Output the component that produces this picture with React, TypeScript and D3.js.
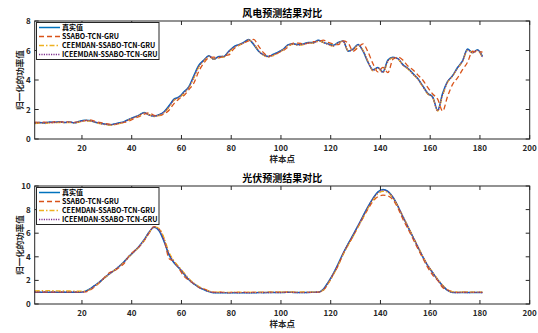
import React from 'react';
import * as d3 from 'd3';

// sample points: every other sample, 1..181
const samples = d3.range(1, 182, 2);

const seriesNames = ['真实值', 'SSABO-TCN-GRU', 'CEEMDAN-SSABO-TCN-GRU', 'ICEEMDAN-SSABO-TCN-GRU'];
const xTicks = [20, 40, 60, 80, 100, 120, 140, 160, 180, 200];
const windTicks = [0, 2, 4, 6, 8];
const solarTicks = [0, 2, 4, 6, 8, 10];

const windTrue = [1.10, 1.12, 1.08, 1.15, 1.13, 1.17, 1.12, 1.15, 1.10, 1.20, 1.27, 1.25, 1.15, 1.08, 1.02, 0.97, 1.02, 1.10, 1.18, 1.35,
  1.48, 1.62, 1.80, 1.62, 1.55, 1.65, 1.85, 2.25, 2.70, 2.85, 3.20, 3.55, 4.30, 5.00, 5.35, 5.65, 5.40, 5.60, 5.60, 5.95,
  6.25, 6.40, 6.55, 6.75, 6.40, 5.95, 5.70, 5.60, 5.75, 5.90, 6.10, 6.40, 6.45, 6.40, 6.45, 6.55, 6.55, 6.70, 6.55, 6.45,
  6.35, 6.55, 6.65, 5.95, 6.10, 6.40, 5.95, 5.20, 4.70, 4.85, 4.55, 5.35, 5.55, 5.45, 5.05, 4.80, 4.45, 4.10, 3.60, 3.10,
  2.85, 1.95, 3.10, 3.90, 4.30, 4.85, 5.30, 6.10, 5.85, 6.05, 5.60];
const windSsabo = [1.15, 1.12, 1.15, 1.10, 1.17, 1.15, 1.18, 1.13, 1.15, 1.15, 1.25, 1.30, 1.22, 1.12, 1.05, 1.00, 0.98, 1.05, 1.12, 1.22,
  1.40, 1.52, 1.68, 1.78, 1.60, 1.58, 1.70, 1.95, 2.40, 2.72, 2.95, 3.35, 3.80, 4.60, 5.15, 5.50, 5.55, 5.50, 5.65, 5.70,
  6.10, 6.35, 6.50, 6.65, 6.75, 6.30, 5.85, 5.65, 5.65, 5.85, 6.00, 6.25, 6.50, 6.50, 6.45, 6.50, 6.60, 6.60, 6.70, 6.55,
  6.45, 6.40, 6.65, 6.50, 5.95, 6.20, 6.45, 5.90, 5.10, 4.55, 4.85, 4.50, 5.40, 5.55, 5.35, 4.95, 4.70, 4.35, 4.00, 3.50,
  3.05, 2.70, 1.90, 2.90, 3.70, 4.15, 4.70, 5.20, 5.95, 5.90, 5.90];
const windCeemdan = [1.05, 1.08, 1.05, 1.10, 1.10, 1.12, 1.10, 1.12, 1.08, 1.15, 1.22, 1.22, 1.15, 1.05, 0.98, 0.94, 0.98, 1.05, 1.14, 1.30,
  1.45, 1.58, 1.75, 1.65, 1.52, 1.60, 1.78, 2.15, 2.62, 2.78, 3.10, 3.48, 4.15, 4.88, 5.28, 5.60, 5.42, 5.52, 5.55, 5.88,
  6.18, 6.35, 6.50, 6.70, 6.48, 6.00, 5.68, 5.55, 5.68, 5.85, 6.05, 6.35, 6.42, 6.35, 6.40, 6.50, 6.50, 6.65, 6.55, 6.40,
  6.30, 6.50, 6.62, 6.00, 6.05, 6.35, 6.00, 5.25, 4.62, 4.80, 4.50, 5.25, 5.50, 5.42, 5.00, 4.75, 4.40, 4.05, 3.55, 3.05,
  2.80, 1.90, 2.95, 3.85, 4.25, 4.80, 5.25, 6.00, 5.85, 6.00, 5.50];
const windIceemdan = [1.08, 1.10, 1.10, 1.12, 1.12, 1.15, 1.12, 1.14, 1.10, 1.18, 1.25, 1.24, 1.16, 1.08, 1.00, 0.97, 1.00, 1.08, 1.16, 1.32,
  1.47, 1.60, 1.77, 1.64, 1.55, 1.63, 1.82, 2.20, 2.66, 2.82, 3.15, 3.52, 4.22, 4.95, 5.32, 5.62, 5.42, 5.56, 5.58, 5.92,
  6.22, 6.38, 6.52, 6.72, 6.45, 5.98, 5.70, 5.58, 5.72, 5.88, 6.08, 6.38, 6.43, 6.38, 6.42, 6.52, 6.52, 6.68, 6.55, 6.42,
  6.32, 6.52, 6.63, 5.98, 6.08, 6.38, 5.98, 5.22, 4.66, 4.82, 4.52, 5.30, 5.52, 5.44, 5.02, 4.78, 4.42, 4.08, 3.58, 3.08,
  2.82, 1.92, 3.02, 3.88, 4.28, 4.82, 5.28, 6.05, 5.85, 6.02, 5.55];

const solarTrue = [1.00, 1.00, 1.00, 1.00, 1.00, 1.00, 1.00, 1.00, 1.00, 1.00, 1.05, 1.25, 1.55, 1.85, 2.20, 2.55, 2.85, 3.20, 3.60, 4.05,
  4.45, 4.90, 5.45, 6.10, 6.50, 6.20, 5.30, 4.15, 3.50, 3.05, 2.55, 2.05, 1.70, 1.42, 1.22, 1.05, 0.95, 0.95, 0.95, 0.95,
  0.95, 0.96, 0.95, 0.96, 0.95, 0.97, 0.96, 0.98, 0.98, 0.98, 0.97, 1.00, 0.98, 0.97, 0.98, 0.98, 0.99, 1.00, 1.25, 1.85,
  2.55, 3.40, 4.30, 5.10, 5.85, 6.65, 7.45, 8.25, 8.95, 9.50, 9.70, 9.55, 9.05, 8.30, 7.40, 6.55, 5.70, 4.85, 4.00, 3.25,
  2.65, 2.05, 1.55, 1.15, 0.98, 0.98, 0.98, 0.98, 0.98, 0.97, 0.98];
const solarSsabo = [1.00, 1.02, 1.00, 1.02, 1.00, 1.02, 1.00, 1.02, 1.00, 1.02, 1.02, 1.15, 1.45, 1.80, 2.25, 2.65, 2.80, 3.10, 3.45, 4.10,
  4.50, 4.85, 5.35, 6.00, 6.55, 6.35, 5.50, 3.85, 3.60, 3.00, 2.35, 2.00, 1.72, 1.40, 1.30, 1.10, 1.00, 1.02, 0.98, 0.97,
  1.00, 0.98, 1.00, 0.98, 1.00, 0.98, 1.00, 1.00, 0.99, 1.00, 1.00, 1.02, 1.00, 0.98, 1.00, 0.98, 1.00, 1.00, 1.15, 1.75,
  2.50, 3.25, 4.25, 5.00, 5.75, 6.55, 7.30, 8.05, 8.70, 9.10, 9.22, 9.15, 8.85, 8.15, 7.20, 6.40, 5.55, 4.70, 3.90, 3.10,
  2.45, 2.00, 1.40, 1.20, 1.05, 0.98, 1.00, 1.00, 0.98, 1.00, 0.98];
const solarCeemdan = [1.12, 1.13, 1.12, 1.13, 1.12, 1.10, 1.10, 1.10, 1.08, 1.08, 1.08, 1.20, 1.50, 1.82, 2.18, 2.52, 2.85, 3.18, 3.58, 4.02,
  4.42, 4.85, 5.40, 6.05, 6.55, 6.40, 5.60, 4.40, 3.65, 3.15, 2.65, 2.15, 1.78, 1.48, 1.28, 1.10, 1.00, 1.00, 0.98, 0.98,
  1.00, 1.00, 0.98, 1.00, 0.98, 1.00, 0.98, 1.00, 1.00, 1.02, 1.00, 1.02, 1.00, 1.00, 1.00, 1.00, 1.00, 1.00, 1.18, 1.75,
  2.45, 3.28, 4.18, 4.98, 5.72, 6.52, 7.32, 8.12, 8.82, 9.35, 9.55, 9.45, 9.00, 8.30, 7.45, 6.60, 5.75, 4.90, 4.05, 3.30,
  2.70, 2.10, 1.60, 1.20, 1.02, 1.02, 1.00, 1.02, 1.00, 1.00, 1.00];
const solarIceemdan = [1.02, 1.00, 1.02, 1.00, 1.02, 1.00, 1.02, 1.00, 1.02, 1.00, 1.04, 1.22, 1.52, 1.83, 2.20, 2.55, 2.85, 3.20, 3.58, 4.05,
  4.45, 4.88, 5.42, 6.08, 6.52, 6.25, 5.38, 4.25, 3.55, 3.08, 2.58, 2.08, 1.72, 1.44, 1.24, 1.06, 0.97, 0.96, 0.96, 0.95,
  0.96, 0.95, 0.96, 0.95, 0.96, 0.96, 0.97, 0.97, 0.98, 0.97, 0.98, 0.99, 0.98, 0.97, 0.97, 0.98, 0.99, 1.00, 1.22, 1.82,
  2.52, 3.38, 4.28, 5.08, 5.82, 6.62, 7.42, 8.22, 8.92, 9.45, 9.66, 9.52, 9.05, 8.32, 7.42, 6.58, 5.72, 4.88, 4.02, 3.28,
  2.66, 2.06, 1.56, 1.16, 0.98, 0.97, 0.98, 0.97, 0.98, 0.98, 0.97];

const FONT = '"Noto Sans CJK SC", "Noto Sans", sans-serif';

// line styles follow MATLAB defaults
const styles = [
  { color: '#0072BD', dash: '', width: 1.5 },
  { color: '#D95319', dash: '5,3', width: 1.3 },
  { color: '#EDB120', dash: '5,2,1.5,2', width: 1.3 },
  { color: '#7E2F8E', dash: '1.2,1.2', width: 1.3 },
];

const x = d3.scaleLinear().domain([1, 200]).range([34.7, 529.7]);

type PanelProps = {
  top: number;
  bottom: number;
  yMax: number;
  yTicks: number[];
  title: string;
  series: number[][];
};

const Panel = ({ top, bottom, yMax, yTicks, title, series }: PanelProps) => {
  const y = d3.scaleLinear().domain([0, yMax]).range([bottom, top]);
  const line = d3.line<number>()
    .x((_, i) => x(samples[i]))
    .y(d => y(d))
    .curve(d3.curveMonotoneX);
  const left = x.range()[0];
  const right = x.range()[1];
  const midX = (left + right) / 2;
  const tk = 4;

  return (
    <g>
      {series.map((s, i) => (
        <path key={i} d={line(s) || ''} fill="none" stroke={styles[i].color}
          strokeWidth={styles[i].width} strokeDasharray={styles[i].dash} />
      ))}

      {/* box and ticks */}
      <rect x={left} y={top} width={right - left} height={bottom - top} fill="none" stroke="#262626" strokeWidth={1} />
      {xTicks.map(t => (
        <g key={t}>
          <line x1={x(t)} x2={x(t)} y1={bottom} y2={bottom - tk} stroke="#262626" />
          <line x1={x(t)} x2={x(t)} y1={top} y2={top + tk} stroke="#262626" />
          <text x={x(t)} y={bottom + 12} textAnchor="middle" fontSize={8} fontWeight="bold" fill="#262626">{t}</text>
        </g>
      ))}
      {yTicks.map(t => (
        <g key={t}>
          <line x1={left} x2={left + tk} y1={y(t)} y2={y(t)} stroke="#262626" />
          <line x1={right} x2={right - tk} y1={y(t)} y2={y(t)} stroke="#262626" />
          <text x={left - 4} y={y(t) + 3} textAnchor="end" fontSize={8} fontWeight="bold" fill="#262626">{t}</text>
        </g>
      ))}

      <text x={midX} y={top - 4} textAnchor="middle" fontSize={10} fontWeight="bold" fill="#000">{title}</text>
      <text x={midX} y={bottom + 23} textAnchor="middle" fontSize={8.5} fontWeight="bold" fill="#262626">样本点</text>
      <text transform={`translate(22.5,${(top + bottom) / 2}) rotate(-90)`} textAnchor="middle" fontSize={8.5}
        fontWeight="bold" fill="#262626">归一化的功率值</text>

      {/* legend */}
      <rect x={36.5} y={top + 1.5} width={122.5} height={37} fill="#fff" stroke="#262626" strokeWidth={1} />
      {seriesNames.map((name, i) => {
        const ry = top + 6.5 + i * 9;
        return (
          <g key={name}>
            <line x1={39} x2={60} y1={ry} y2={ry} stroke={styles[i].color} strokeWidth={styles[i].width}
              strokeDasharray={styles[i].dash} />
            <text x={62} y={ry + 2.5} fontSize={7} fontWeight="bold" fill="#000">{name}</text>
          </g>
        );
      })}
    </g>
  );
};

const App = () => (
  <svg width={538} height={333} style={{ position: 'absolute', left: 0, top: 0, background: '#fff', fontFamily: FONT }}>
    <Panel top={21} bottom={139} yMax={8} yTicks={windTicks} title="风电预测结果对比"
      series={[windTrue, windSsabo, windCeemdan, windIceemdan]} />
    <Panel top={186} bottom={304} yMax={10} yTicks={solarTicks} title="光伏预测结果对比"
      series={[solarTrue, solarSsabo, solarCeemdan, solarIceemdan]} />
  </svg>
);

export default App;
